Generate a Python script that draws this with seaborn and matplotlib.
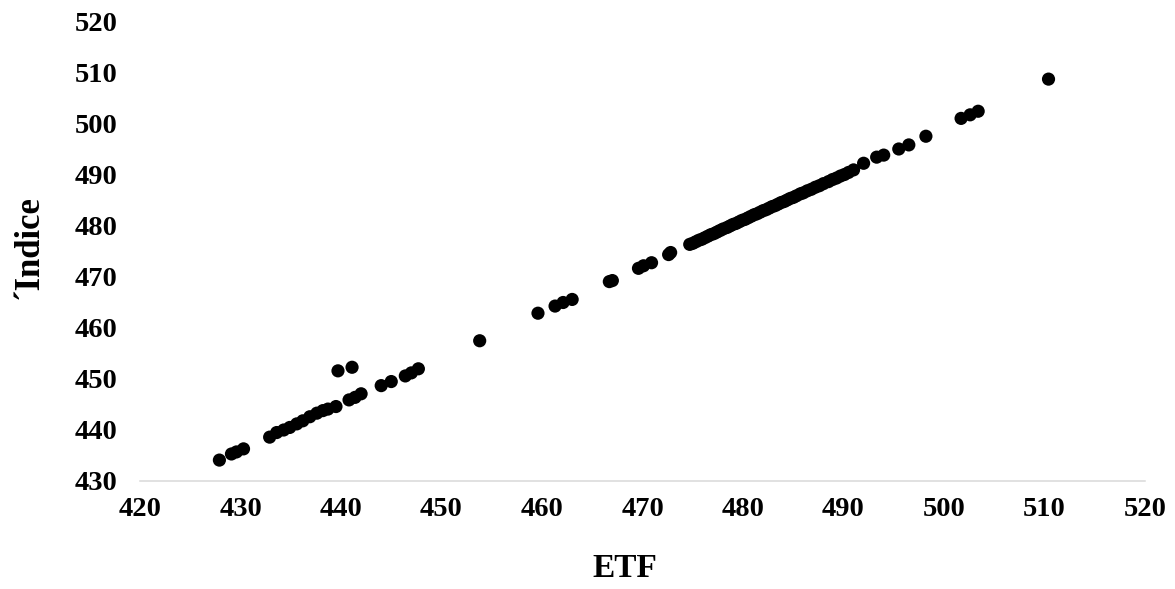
import matplotlib
matplotlib.use("Agg")
import matplotlib.pyplot as plt
import seaborn as sns
import pandas as pd

# Data
etf = [
    427.9, 429.1, 429.6, 430.3,
    432.9, 433.6, 434.3, 434.9, 435.6, 436.2, 436.9, 437.6, 438.2, 438.7, 439.5,
    439.7, 441.1,
    440.8, 441.4, 442.0, 444.0, 445.0, 446.4, 447.0, 447.7,
    453.8,
    459.6, 461.3, 462.1, 463.0,
    466.7, 467.0,
    469.6, 470.1, 470.9, 472.6, 472.8,
    474.7, 475.0, 475.3, 475.6, 475.9, 476.2, 476.5, 476.8, 477.1, 477.4,
    477.7, 478.0, 478.4, 478.7, 479.0, 479.3, 479.6, 479.9, 480.2, 480.5,
    480.8, 481.1, 481.4, 481.7, 482.0, 482.3, 482.6, 482.9, 483.2, 483.5,
    483.8, 484.1, 484.4, 484.7, 485.0, 485.3, 485.7, 486.0, 486.4, 486.8,
    487.2, 487.6, 488.0, 488.5, 488.9, 489.3, 489.7, 490.1, 490.5, 491.0,
    492.0, 493.3, 494.0, 495.5, 496.5, 498.2,
    501.7, 502.6, 503.4,
    510.4,
]
indice = [
    434.1, 435.3, 435.7, 436.3,
    438.6, 439.5, 440.0, 440.5, 441.2, 441.8, 442.6, 443.3, 443.8, 444.1, 444.6,
    451.6, 452.3,
    445.9, 446.4, 447.1, 448.7, 449.5, 450.6, 451.2, 452.0,
    457.5,
    462.9, 464.3, 465.0, 465.6,
    469.1, 469.3,
    471.7, 472.2, 472.8, 474.4, 474.8,
    476.4, 476.6, 476.9, 477.2, 477.4, 477.7, 478.0, 478.3, 478.5, 478.8,
    479.1, 479.4, 479.7, 480.0, 480.3, 480.5, 480.8, 481.1, 481.3, 481.6,
    481.9, 482.2, 482.4, 482.7, 483.0, 483.2, 483.5, 483.8, 484.0, 484.3,
    484.6, 484.8, 485.1, 485.4, 485.6, 485.9, 486.3, 486.5, 486.9, 487.2,
    487.6, 487.9, 488.3, 488.7, 489.1, 489.4, 489.8, 490.1, 490.5, 491.0,
    492.3, 493.5, 493.9, 495.1, 495.9, 497.6,
    501.1, 501.8, 502.5,
    508.8,
]
x_ticks = [420, 430, 440, 450, 460, 470, 480, 490, 500, 510, 520]
y_ticks = [430, 440, 450, 460, 470, 480, 490, 500, 510, 520]
x_label = "ETF"
y_label = "´Indice"

sns.set_style("white")
plt.rcParams["font.family"] = ["Liberation Serif", "DejaVu Serif"]
plt.rcParams["font.weight"] = "bold"
plt.rcParams["text.color"] = "black"
plt.rcParams["axes.labelcolor"] = "black"
plt.rcParams["xtick.color"] = "black"
plt.rcParams["ytick.color"] = "black"

df = pd.DataFrame({x_label: etf, y_label: indice})

fig = plt.figure(figsize=(11.75, 5.89), dpi=100)
ax = fig.add_axes([140 / 1175, 1 - 481 / 589, 1005 / 1175, 459 / 589])

sns.scatterplot(data=df, x=x_label, y=y_label, ax=ax, color="black",
                s=90, linewidth=0, edgecolor="none", zorder=3)

ax.set_xlim(420, 520)
ax.set_ylim(430, 520)
ax.set_xticks(x_ticks)
ax.set_yticks(y_ticks)
ax.set_xticklabels([str(t) for t in x_ticks], fontsize=20.5, fontweight="bold",
                   color="black")
ax.set_yticklabels([str(t) for t in y_ticks], fontsize=20.5, fontweight="bold",
                   color="black")
ax.tick_params(axis="x", length=0, pad=11.5)
ax.tick_params(axis="y", length=0, pad=16)

for side in ["top", "right", "left"]:
    ax.spines[side].set_visible(False)
ax.spines["bottom"].set_color("#d9d9d9")
ax.spines["bottom"].set_linewidth(1.1)
ax.grid(False)

ax.set_xlabel(x_label, fontsize=24, fontweight="bold", color="black")
ax.set_ylabel(y_label, fontsize=25, fontweight="bold", color="black")
ax.xaxis.set_label_coords(485 / 1005, -72 / 459)
ax.yaxis.set_label_coords(-94 / 1005, 0.51)

fig.savefig("out.png", dpi=100, facecolor="white")
